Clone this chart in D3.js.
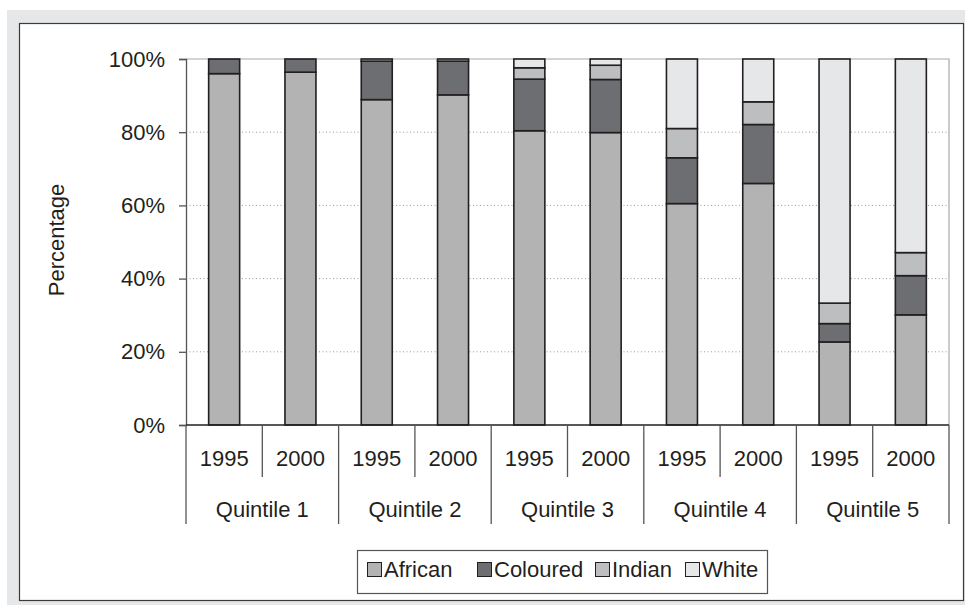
<!DOCTYPE html>
<html>
<head>
<meta charset="utf-8">
<script src="https://cdn.jsdelivr.net/npm/d3@7"></script>
<style>
  body { margin: 0; background: #fff; }
  svg { display: block; font-family: "Liberation Sans", Arial, sans-serif; }
</style>
</head>
<body>
<svg width="965" height="605"></svg>
<script>
const quintiles = ["Quintile 1", "Quintile 2", "Quintile 3", "Quintile 4", "Quintile 5"];
const years = ["1995", "2000"];
const groups = ["African", "Coloured", "Indian", "White"];

// percentages per bar, in order Q1 1995, Q1 2000, Q2 1995 ...
const african = [96.0, 96.4, 88.9, 90.2, 80.4, 79.9, 60.5, 66.0, 22.7, 30.1];
const coloured = [4.0, 3.6, 10.5, 9.2, 14.1, 14.5, 12.5, 16.1, 5.0, 10.7];
const indian = [0, 0, 0.6, 0.6, 3.1, 3.9, 8.0, 6.2, 5.6, 6.3];
const white = [0, 0, 0, 0, 2.4, 1.7, 19.0, 11.7, 66.7, 52.9];

const yTicks = [0, 20, 40, 60, 80, 100];

const colors = ["#b3b3b3", "#6d6e71", "#bcbec0", "#e6e7e8"];
const ink = "#231f20";

const rows = [];
quintiles.forEach((q, qi) => {
  years.forEach((yr, yi) => {
    const i = qi * 2 + yi;
    rows.push({
      key: q + "|" + yr, quintile: q, year: yr,
      African: african[i], Coloured: coloured[i], Indian: indian[i], White: white[i]
    });
  });
});

const svg = d3.select("svg");

// page frame
svg.append("rect").attr("x", 7).attr("y", 10).attr("width", 958).attr("height", 595)
  .attr("fill", "#e6e7e8");
svg.append("rect").attr("x", 19.5).attr("y", 23.5).attr("width", 944).attr("height", 577)
  .attr("fill", "#fff").attr("stroke", "#3a3a3a").attr("stroke-width", 1.2);

const plotL = 186, plotR = 949, plotT = 59, plotB = 425;

const x = d3.scaleBand().domain(rows.map(d => d.key)).range([plotL, plotR]).padding(0);
const xq = d3.scaleBand().domain(quintiles).range([plotL, plotR]).padding(0);
const y = d3.scaleLinear().domain([0, 100]).range([plotB, plotT]);
const color = d3.scaleOrdinal(groups, colors);

// grid
svg.append("g")
  .selectAll("line")
  .data(yTicks.filter(t => t > 0 && t < 100))
  .enter()
  .append("line")
  .attr("x1", plotL).attr("x2", plotR)
  .attr("y1", d => y(d)).attr("y2", d => y(d))
  .attr("stroke", "#999").attr("stroke-dasharray", "1,2.5");

// plot area border (top, right)
svg.append("path")
  .attr("d", `M${plotL},${y(100)}H${plotR}V${plotB}`)
  .attr("fill", "none").attr("stroke", "#a7a9ac").attr("stroke-width", 1.2);

// stacked bars
const stack = d3.stack().keys(groups);
const series = stack(rows);
const barW = 31;

svg.append("g")
  .selectAll("g")
  .data(series)
  .enter()
  .append("g")
  .attr("fill", d => color(d.key))
  .selectAll("rect")
  .data(d => d.filter(s => s[1] - s[0] > 0))
  .enter()
  .append("rect")
  .attr("x", d => x(d.data.key) + x.bandwidth() / 2 - barW / 2)
  .attr("width", barW)
  .attr("y", d => y(d[1]))
  .attr("height", d => y(d[0]) - y(d[1]))
  .attr("stroke", ink).attr("stroke-width", 1.6);

// y axis
const yAxis = svg.append("g")
  .attr("transform", `translate(${plotL},0)`)
  .call(d3.axisLeft(y).tickValues(yTicks).tickFormat(d => d + "%").tickSize(7).tickPadding(14));
yAxis.select(".domain").attr("stroke", "#555").attr("stroke-width", 1.3);
yAxis.selectAll(".tick line").attr("stroke", "#555").attr("stroke-width", 1.3);
yAxis.selectAll("text").attr("font-size", 22).attr("fill", ink)
  .attr("font-family", "Liberation Sans, Arial, sans-serif");

svg.append("text")
  .attr("transform", "translate(64,240) rotate(-90)")
  .attr("text-anchor", "middle")
  .attr("font-size", 22).attr("fill", ink)
  .text("Percentage");

// x axis: baseline + category separators
const xAxis = svg.append("g");
xAxis.append("line")
  .attr("x1", plotL).attr("x2", plotR).attr("y1", plotB).attr("y2", plotB)
  .attr("stroke", ink).attr("stroke-width", 1.4);

const edges = rows.map(d => x(d.key)).concat([plotR]);
xAxis.selectAll(".sep")
  .data(edges)
  .enter()
  .append("line")
  .attr("class", "sep")
  .attr("x1", d => d).attr("x2", d => d)
  .attr("y1", plotB)
  .attr("y2", (d, i) => (i % 2 === 0 ? 524 : 477))
  .attr("stroke", "#555").attr("stroke-width", 1.3);

xAxis.selectAll(".yr")
  .data(rows)
  .enter()
  .append("text")
  .attr("x", d => x(d.key) + x.bandwidth() / 2)
  .attr("y", 466)
  .attr("text-anchor", "middle")
  .attr("font-size", 22).attr("fill", ink)
  .text(d => d.year);

xAxis.selectAll(".q")
  .data(quintiles)
  .enter()
  .append("text")
  .attr("x", d => xq(d) + xq.bandwidth() / 2)
  .attr("y", 517)
  .attr("text-anchor", "middle")
  .attr("font-size", 22).attr("fill", ink)
  .text(d => d);

// legend
const legend = svg.append("g");
legend.append("rect")
  .attr("x", 357.5).attr("y", 550.5).attr("width", 410).attr("height", 43)
  .attr("fill", "#fff").attr("stroke", "#555").attr("stroke-width", 1.2);

const legendX = [367, 477, 595, 685];
const items = legend.selectAll(".item")
  .data(groups)
  .enter()
  .append("g")
  .attr("transform", (d, i) => `translate(${legendX[i]},0)`);
items.append("rect")
  .attr("x", 0.5).attr("y", 562.5).attr("width", 14).attr("height", 14)
  .attr("fill", d => color(d)).attr("stroke", ink).attr("stroke-width", 1);
items.append("text")
  .attr("x", 17).attr("y", 577)
  .attr("font-size", 22).attr("fill", ink)
  .text(d => d);
</script>
</body>
</html>
